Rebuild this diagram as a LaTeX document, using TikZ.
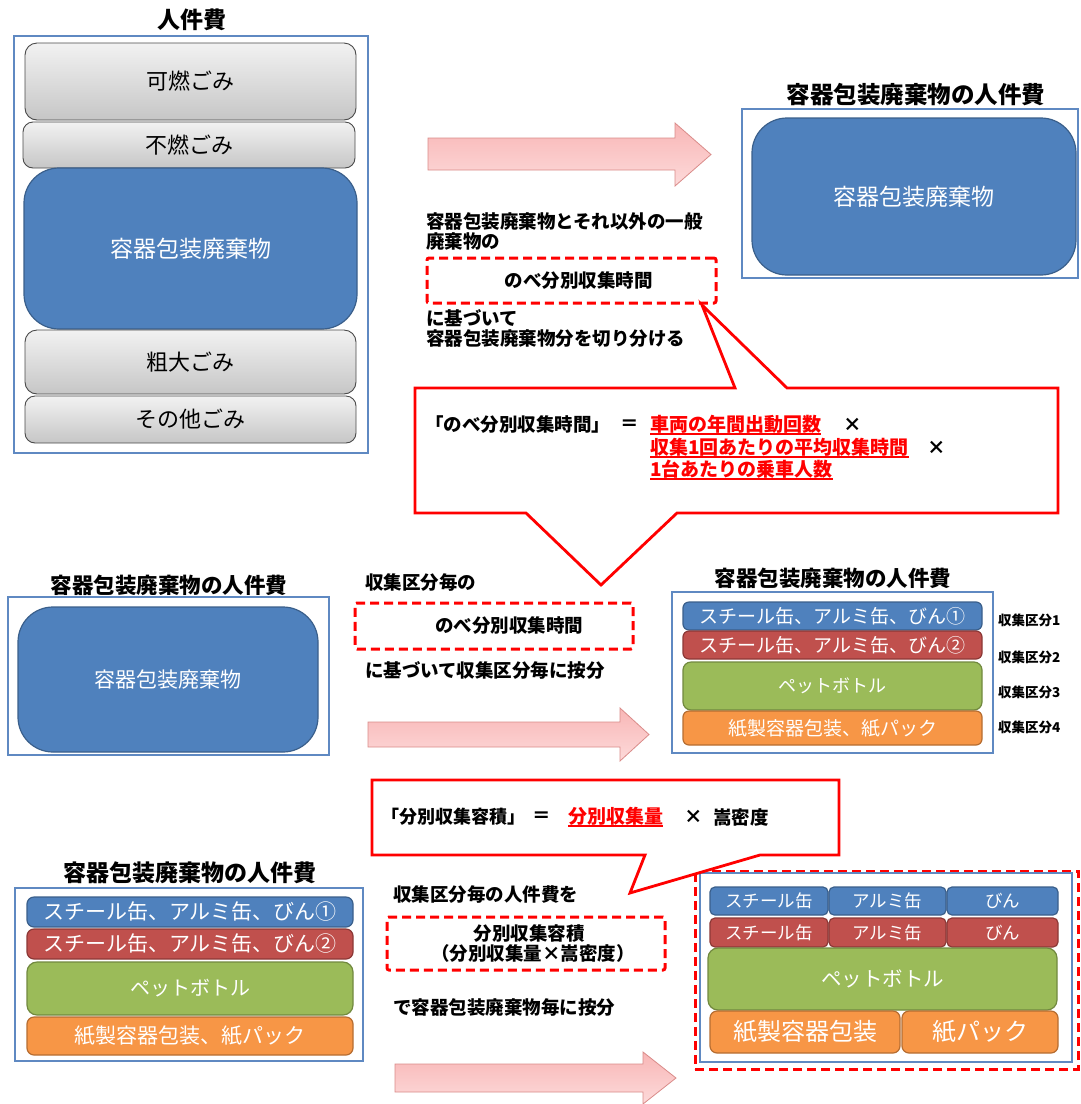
\documentclass[tikz,border=0pt]{standalone}
\usepackage{fontspec}
\setmainfont{Noto Sans CJK JP}
\definecolor{acc1}{HTML}{4F81BD}
\definecolor{acc1d}{HTML}{3A5F8B}
\definecolor{acc2}{HTML}{C0504D}
\definecolor{acc2d}{HTML}{8C3836}
\definecolor{acc3}{HTML}{9BBB59}
\definecolor{acc3d}{HTML}{71893F}
\definecolor{acc6}{HTML}{F79646}
\definecolor{acc6d}{HTML}{B66D31}
\definecolor{obl}{HTML}{5F89C2}
\definecolor{gtop}{HTML}{F2F2F2}
\definecolor{gbot}{HTML}{C6C6C6}
\definecolor{gedge}{HTML}{4A4A4A}
\definecolor{pk1}{HTML}{F8B6B6}
\definecolor{pk2}{HTML}{FDDADA}
\definecolor{pkd}{HTML}{D98B89}
\newcommand{\redul}[1]{\setbox0\hbox{#1}\rlap{\rule[-3pt]{\wd0}{1.3pt}}\box0}
\tikzset{
 every node/.style={inner sep=0pt, outer sep=0pt},
 outerbox/.style={draw=obl, line width=1.8pt},
 graybox/.style={draw=gedge, line width=0.9pt, top color=gtop, bottom color=gbot, font=\fontsize{22}{24}\selectfont},
 bluebox/.style={draw=acc1d, line width=1.2pt, fill=acc1, text=white},
 redbox/.style={draw=acc2d, line width=1.2pt, fill=acc2, text=white},
 greenbox/.style={draw=acc3d, line width=1.2pt, fill=acc3, text=white},
 orangebox/.style={draw=acc6d, line width=1.2pt, fill=acc6, text=white},
 dbox/.style={draw=red, line width=3pt, dash pattern=on 9pt off 5pt, rounded corners=2pt},
 callout/.style={draw=red, line width=2.8pt, fill=white, line join=miter},
 pinkarrow/.style={draw=pkd, line width=0.8pt, top color=pk1, bottom color=pk2},
 ttl/.style={font=\fontsize{23}{25}\selectfont\bfseries},
 bt/.style={font=\fontsize{18.5}{21}\selectfont\bfseries, anchor=west},
 rt/.style={font=\fontsize{19}{21}\selectfont\bfseries, anchor=west, text=red},
 lbl/.style={font=\fontsize{13.5}{15}\selectfont\bfseries, anchor=west},
}
\begin{document}
\begin{tikzpicture}[x=1pt,y=-1pt]
\useasboundingbox (0,0) rectangle (1080,1104);

% ---------- top-left ----------
\node[ttl] (t1) at (192,20) {人件費};
\node[outerbox, minimum width=354pt, minimum height=417pt] (o1) at (191,244.5) {};
\node[graybox, rounded corners=12pt, minimum width=331pt, minimum height=77pt] (kanen) at (190.5,81.5) {可燃ごみ};
\node[graybox, rounded corners=10pt, minimum width=332pt, minimum height=46pt] (funen) at (189,145) {不燃ごみ};
\node[bluebox, rounded corners=35pt, minimum width=333pt, minimum height=161pt, font=\fontsize{23}{25}\selectfont] (yoki1) at (190.5,248.5) {容器包装廃棄物};
\node[graybox, rounded corners=12pt, minimum width=331pt, minimum height=64pt] (sodai) at (190.5,362) {粗大ごみ};
\node[graybox, rounded corners=10pt, minimum width=331pt, minimum height=47pt] (sonota) at (190.5,419.5) {その他ごみ};

% arrow 1
\draw[pinkarrow] (428,138) -- (675,138) -- (675,123) -- (711,154.5) -- (675,186) -- (675,170) -- (428,170) -- cycle;

% ---------- top-right ----------
\node[ttl, font=\fontsize{23.5}{25}\selectfont\bfseries] (t2) at (916,95) {容器包装廃棄物の人件費};
\node[outerbox, minimum width=336pt, minimum height=169pt] (o2) at (910,193.5) {};
\node[bluebox, rounded corners=35pt, minimum width=324pt, minimum height=157pt, font=\fontsize{23}{25}\selectfont] (yoki2) at (914,196.5) {容器包装廃棄物};

% text block 1
\node[bt] (d1a) at (426,221) {容器包装廃棄物とそれ以外の一般};
\node[bt] (d1b) at (426,242) {廃棄物の};
\node[dbox, minimum width=289pt, minimum height=45pt, font=\fontsize{18.5}{21}\selectfont\bfseries] (nk1) at (571.5,280.5) {\hspace*{14pt}のべ分別収集時間};
\node[bt] (d1c) at (426,318) {に基づいて};
\node[bt] (d1d) at (426,338) {容器包装廃棄物分を切り分ける};

% callout 1
\coordinate (c1tip) at (702,305);
\coordinate (c1bot) at (601,585);
\draw[callout] (415,388) -- (735,388) -- (c1tip) -- (787,388) -- (1058,388) -- (1058,513) -- (677,513) -- (c1bot) -- (526,513) -- (415,513) -- cycle;
\node[bt] (c1a) at (425,425) {「のべ分別収集時間」};
\node[bt] (c1eq) at (620,425) {＝};
\node[rt] (c1r1) at (650,425) {\redul{車両の年間出動回数}};
\node[bt] (c1x1) at (843,425) {×};
\node[rt] (c1r2) at (650,448) {\redul{収集1回あたりの平均収集時間}};
\node[bt] (c1x2) at (927,448) {×};
\node[rt] (c1r3) at (650,470) {\redul{1台あたりの乗車人数}};

% ---------- middle-left ----------
\node[ttl, font=\fontsize{21.5}{24}\selectfont\bfseries] (t3) at (169,585) {容器包装廃棄物の人件費};
\node[outerbox, minimum width=321pt, minimum height=158pt] (o3) at (168.5,676) {};
\node[bluebox, rounded corners=35pt, minimum width=300pt, minimum height=145pt, font=\fontsize{21}{23}\selectfont] (yoki3) at (168,679.5) {容器包装廃棄物};

% middle text
\node[bt] (m1) at (365,583) {収集区分毎の};
\node[dbox, minimum width=278pt, minimum height=46pt, font=\fontsize{18.5}{21}\selectfont\bfseries] (nk2) at (494,626) {\hspace*{30pt}のべ分別収集時間};
\node[bt] (m2) at (365,670) {に基づいて収集区分毎に按分};

% arrow 2
\draw[pinkarrow] (368,722) -- (620,722) -- (620,708) -- (649,734.5) -- (620,761) -- (620,747) -- (368,747) -- cycle;

% ---------- middle-right ----------
\node[ttl, font=\fontsize{21.5}{24}\selectfont\bfseries] (t4) at (833,578) {容器包装廃棄物の人件費};
\node[outerbox, minimum width=321pt, minimum height=161pt] (o4) at (832.5,672.5) {};
\node[bluebox, rounded corners=6pt, minimum width=299pt, minimum height=28pt, font=\fontsize{19}{21}\selectfont] (mb1) at (832.5,616) {スチール缶、アルミ缶、びん①};
\node[redbox, rounded corners=6pt, minimum width=299pt, minimum height=28pt, font=\fontsize{19}{21}\selectfont] (mb2) at (832.5,645) {スチール缶、アルミ缶、びん②};
\node[greenbox, rounded corners=8pt, minimum width=299pt, minimum height=48pt, font=\fontsize{18}{21}\selectfont] (mb3) at (832.5,686) {ペットボトル};
\node[orangebox, rounded corners=6pt, minimum width=299pt, minimum height=34pt, font=\fontsize{19}{21}\selectfont] (mb4) at (832.5,728) {紙製容器包装、紙パック};
\node[lbl] (k1) at (998,620) {収集区分1};
\node[lbl] (k2) at (998,657) {収集区分2};
\node[lbl] (k3) at (998,692) {収集区分3};
\node[lbl] (k4) at (998,727) {収集区分4};

% ---------- bottom-right group (drawn before callout 2) ----------
\node[dbox, rounded corners=0pt, minimum width=383pt, minimum height=198pt] (grp) at (886.5,970) {};
\node[outerbox, minimum width=372pt, minimum height=189pt] (o6) at (886,967.5) {};
\node[bluebox, rounded corners=5pt, minimum width=118pt, minimum height=28pt, font=\fontsize{17.5}{20}\selectfont] (s1) at (769,901) {スチール缶};
\node[bluebox, rounded corners=5pt, minimum width=117pt, minimum height=28pt, font=\fontsize{17.5}{20}\selectfont] (a1) at (887.5,901) {アルミ缶};
\node[bluebox, rounded corners=5pt, minimum width=111pt, minimum height=28pt, font=\fontsize{17.5}{20}\selectfont] (v1) at (1002.5,901) {びん};
\node[redbox, rounded corners=5pt, minimum width=118pt, minimum height=29pt, font=\fontsize{17.5}{20}\selectfont] (s2) at (769,932.5) {スチール缶};
\node[redbox, rounded corners=5pt, minimum width=117pt, minimum height=29pt, font=\fontsize{17.5}{20}\selectfont] (a2) at (887.5,932.5) {アルミ缶};
\node[redbox, rounded corners=5pt, minimum width=111pt, minimum height=29pt, font=\fontsize{17.5}{20}\selectfont] (v2) at (1002.5,932.5) {びん};
\node[greenbox, rounded corners=10pt, minimum width=349pt, minimum height=62pt, font=\fontsize{20.5}{23}\selectfont] (pet) at (882.5,979) {ペットボトル};
\node[orangebox, rounded corners=7pt, minimum width=190pt, minimum height=42pt, font=\fontsize{24}{26}\selectfont] (kami1) at (805,1032) {紙製容器包装};
\node[orangebox, rounded corners=7pt, minimum width=156pt, minimum height=42pt, font=\fontsize{24}{26}\selectfont] (kami2) at (980,1032) {紙パック};

% callout 2
\coordinate (c2tip) at (630,893);
\draw[callout] (372,780) -- (839,780) -- (839,855) -- (760,855) -- (c2tip) -- (645,855) -- (372,855) -- cycle;
\node[bt, font=\fontsize{18}{21}\selectfont\bfseries] (c2a) at (381,817) {「分別収集容積」};
\node[bt] (c2eq) at (532,817) {＝};
\node[rt] (c2r) at (568,817) {\redul{分別収集量}};
\node[bt] (c2x) at (684,817) {×};
\node[bt] (c2b) at (713,817) {嵩密度};

% ---------- bottom-left ----------
\node[ttl] (t5) at (190,873) {容器包装廃棄物の人件費};
\node[outerbox, minimum width=348pt, minimum height=173pt] (o5) at (189,974.5) {};
\node[bluebox, rounded corners=7pt, minimum width=326pt, minimum height=30pt, font=\fontsize{21}{23}\selectfont] (lb1) at (190,912) {スチール缶、アルミ缶、びん①};
\node[redbox, rounded corners=7pt, minimum width=326pt, minimum height=30pt, font=\fontsize{21}{23}\selectfont] (lb2) at (190,944) {スチール缶、アルミ缶、びん②};
\node[greenbox, rounded corners=10pt, minimum width=326pt, minimum height=53pt, font=\fontsize{20}{23}\selectfont] (lb3) at (190,988.5) {ペットボトル};
\node[orangebox, rounded corners=7pt, minimum width=326pt, minimum height=38pt, font=\fontsize{21}{23}\selectfont] (lb4) at (190,1036) {紙製容器包装、紙パック};

% bottom middle text
\node[bt] (n1) at (393,895) {収集区分毎の人件費を};
\node[dbox, minimum width=278pt, minimum height=53pt, align=center, font=\fontsize{18.5}{19.5}\selectfont\bfseries] (nk3) at (526,943.5) {\hspace*{6pt}分別収集容積\\\hspace*{14pt}（分別収集量×嵩密度）};
\node[bt] (n2) at (393,1007) {で容器包装廃棄物毎に按分};

% arrow 3
\draw[pinkarrow] (395,1064) -- (643,1064) -- (643,1052) -- (676,1078) -- (643,1104) -- (643,1092) -- (395,1092) -- cycle;
\end{tikzpicture}
\end{document}
